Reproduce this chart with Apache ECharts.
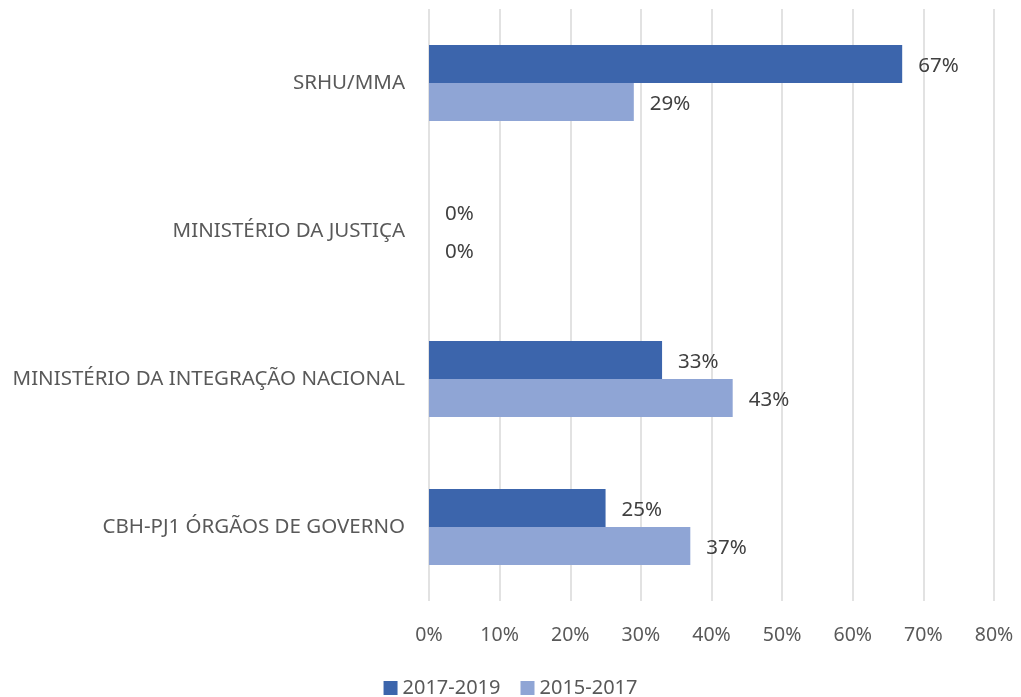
<!DOCTYPE html>
<html>
<head>
<meta charset="utf-8">
<script src="https://cdn.jsdelivr.net/npm/echarts@6/dist/echarts.min.js"></script>
<style>
    html, body { margin: 0; padding: 0; background: #fff; }
    #chart { width: 1021px; height: 697px; }
</style>
</head>
<body>
<div id="chart"></div>
<script>
// dados
var categorias = ['SRHU/MMA', 'MINISTÉRIO DA JUSTIÇA', 'MINISTÉRIO DA INTEGRAÇÃO NACIONAL', 'CBH-PJ1 ÓRGÃOS DE GOVERNO'];
var serie2017 = [67, 0, 33, 25];
var serie2015 = [29, 0, 43, 37];
var nomesSeries = ['2017-2019', '2015-2017'];

var fonte = '"Noto Sans", sans-serif';

var chartDom = document.getElementById('chart');
var myChart = echarts.init(chartDom);

var option = {
    animation: false,
    grid: {
        left: 429,
        right: 27,
        top: 9,
        bottom: 96
    },
    legend: {
        top: 673,
        left: 'center',
        itemWidth: 14,
        itemHeight: 14,
        itemGap: 20,
        icon: 'rect',
        textStyle: { color: '#595959', fontSize: 20, fontFamily: fonte },
        data: nomesSeries
    },
    xAxis: {
        type: 'value',
        min: 0,
        max: 80,
        interval: 10,
        axisLine: { show: false },
        axisTick: { show: false },
        splitLine: { lineStyle: { color: '#d9d9d9', width: 1.5 } },
        axisLabel: {
            formatter: '{value}%',
            color: '#595959',
            fontSize: 19.5,
            fontFamily: fonte,
            margin: 24
        }
    },
    yAxis: {
        type: 'category',
        inverse: true,
        data: categorias,
        axisLine: { show: false },
        axisTick: { show: false },
        axisLabel: {
            color: '#595959',
            fontSize: 20.5,
            fontFamily: fonte,
            margin: 24
        }
    },
    series: [
        {
            name: nomesSeries[0],
            type: 'bar',
            data: serie2017,
            barWidth: 38,
            barGap: '0%',
            itemStyle: { color: '#3c65ac' },
            label: {
                show: true,
                position: 'right',
                distance: 16,
                formatter: '{c}%',
                color: '#404040',
                fontSize: 20.5,
                fontFamily: fonte,
                offset: [0, 2]
            }
        },
        {
            name: nomesSeries[1],
            type: 'bar',
            data: serie2015,
            barWidth: 38,
            barGap: '0%',
            itemStyle: { color: '#8fa5d5' },
            label: {
                show: true,
                position: 'right',
                distance: 16,
                formatter: '{c}%',
                color: '#404040',
                fontSize: 20.5,
                fontFamily: fonte,
                offset: [0, 2]
            }
        }
    ]
};
option && myChart.setOption(option);
</script>
</body>
</html>
